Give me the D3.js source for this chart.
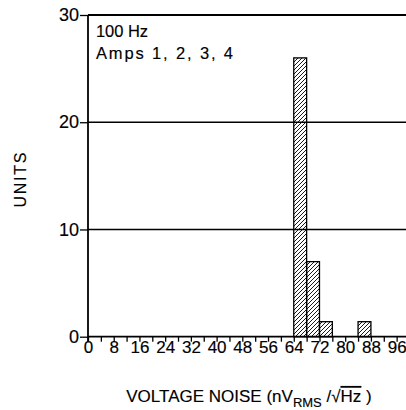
<!DOCTYPE html>
<html><head><meta charset="utf-8">
<script src="https://cdn.jsdelivr.net/npm/d3@7"></script>
<style>body{margin:0;background:#fff}svg{display:block}text{font-family:"Liberation Sans",Arial,sans-serif;fill:#000;stroke:#000;stroke-width:0.15}</style>
</head><body>
<script>
const binStarts = [64, 68, 72, 76, 80, 84];
const binWidth = 4;
const units = [26, 7, 1.4, 0, 0, 1.4];
const xTickLabels = [0, 8, 16, 24, 32, 40, 48, 56, 64, 72, 80, 88, 96];
const yTickLabels = [0, 10, 20, 30];
const annotation = ["100 Hz", "Amps 1, 2, 3, 4"];

const W = 406, H = 410;
const svg = d3.select("body").append("svg").attr("width", W).attr("height", H);
const x = d3.scaleLinear().domain([0, 100]).range([88, 409.5]);
const y = d3.scaleLinear().domain([0, 30]).range([336.7, 15]);

const defs = svg.append("defs");
const pat = defs.append("pattern").attr("id", "hatch").attr("patternUnits", "userSpaceOnUse")
  .attr("width", 4).attr("height", 4);
pat.append("path").attr("d", "M-1,1 L1,-1 M0,4 L4,0 M3,5 L5,3")
  .attr("stroke", "#000").attr("stroke-width", 0.9);

// grid lines
svg.append("g").selectAll("line").data(yTickLabels.filter(d => d > 0)).join("line")
  .attr("x1", x(0)).attr("x2", W).attr("y1", d => y(d)).attr("y2", d => y(d))
  .attr("stroke", "#000").attr("stroke-width", 1.5);

// bars
svg.append("g").selectAll("rect").data(binStarts.map((s, i) => ({s, v: units[i]})).filter(d => d.v > 0)).join("rect")
  .attr("x", d => x(d.s)).attr("width", d => x(d.s + binWidth) - x(d.s))
  .attr("y", d => y(d.v)).attr("height", d => y(0) - y(d.v))
  .attr("fill", "url(#hatch)").attr("stroke", "#000").attr("stroke-width", 1.3);

// x axis
const xAxis = d3.axisBottom(x).tickValues(d3.range(0, 97, 4)).tickSize(5).tickFormat(d => xTickLabels.includes(d) ? d : "");
const gx = svg.append("g").attr("transform", `translate(0,${y(0)})`).call(xAxis);
gx.select(".domain").attr("d", `M${x(0)},0H${W}`).attr("stroke-width", 1.8);
gx.selectAll(".tick line").attr("stroke-width", 1.3);
gx.selectAll(".tick text").attr("font-size", 17).attr("dy", 0).attr("y", 16)
  .attr("font-family", '"Liberation Sans",Arial,sans-serif');

// y axis
const yAxis = d3.axisLeft(y).tickValues(yTickLabels).tickSize(8).tickPadding(1);
const gy = svg.append("g").attr("transform", `translate(${x(0)},0)`).call(yAxis);
gy.select(".domain").attr("d", `M0,${y(30)}V${y(0) + 5}`).attr("stroke-width", 1.8);
gy.selectAll(".tick line").attr("stroke-width", 1.3);
gy.selectAll(".tick text").attr("font-size", 18).attr("font-family", '"Liberation Sans",Arial,sans-serif');

// top border
svg.append("line").attr("x1", x(0)).attr("x2", W).attr("y1", y(30)).attr("y2", y(30))
  .attr("stroke", "#000").attr("stroke-width", 1.8);

// annotation
svg.append("text").attr("x", 96).attr("y", 37).attr("font-size", 16.5)
  .attr("textLength", 52).attr("lengthAdjust", "spacing").text(annotation[0]);
svg.append("text").attr("x", 96).attr("y", 59).attr("font-size", 16.5)
  .attr("textLength", 137).attr("lengthAdjust", "spacing").text(annotation[1]);

// y label
svg.append("text").attr("transform", "translate(26,180) rotate(-90)")
  .attr("text-anchor", "middle").attr("font-size", 16)
  .attr("textLength", 55).attr("lengthAdjust", "spacing").text("UNITS");

// x label
const xl = svg.append("text").attr("x", 249).attr("y", 402).attr("text-anchor", "middle").attr("font-size", 17);
xl.append("tspan").text("VOLTAGE NOISE (nV");
xl.append("tspan").attr("font-size", 13).attr("dy", 5).text("RMS");
xl.append("tspan").attr("dy", -5).text(" /\u221A");
xl.append("tspan").attr("text-decoration", "overline").text("Hz");
xl.append("tspan").text(" )");
</script>
</body></html>
